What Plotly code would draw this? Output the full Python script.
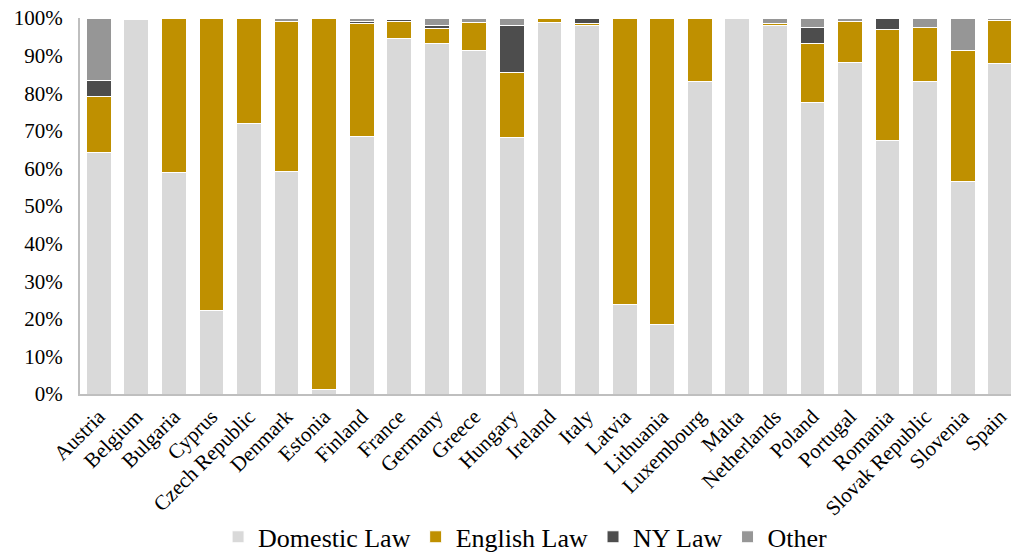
import plotly.graph_objects as go

countries = ["Austria", "Belgium", "Bulgaria", "Cyprus", "Czech Republic", "Denmark",
             "Estonia", "Finland", "France", "Germany", "Greece", "Hungary", "Ireland",
             "Italy", "Latvia", "Lithuania", "Luxembourg", "Malta", "Netherlands",
             "Poland", "Portugal", "Romania", "Slovak Republic", "Slovenia", "Spain"]

domestic = [64.1, 99.7, 58.8, 22.3, 72.0, 59.3, 1.2, 68.5, 94.5, 93.1, 91.4, 68.1, 98.7,
            98.0, 23.9, 18.6, 83.1, 100.0, 98.0, 77.6, 88.1, 67.3, 83.1, 56.6, 87.8]
english = [15.0, 0.3, 41.2, 77.7, 28.0, 39.9, 98.8, 30.0, 4.5, 4.2, 7.3, 17.4, 1.3,
           0.5, 76.1, 81.4, 16.9, 0.0, 0.6, 15.5, 11.1, 29.6, 14.5, 34.8, 11.5]
ny_law = [4.2, 0.0, 0.0, 0.0, 0.0, 0.0, 0.0, 0.7, 0.6, 0.8, 0.0, 12.5, 0.0,
          1.5, 0.0, 0.0, 0.0, 0.0, 0.0, 4.3, 0.0, 3.1, 0.0, 0.0, 0.0]
other = [16.7, 0.0, 0.0, 0.0, 0.0, 0.8, 0.0, 0.8, 0.4, 1.9, 1.3, 2.0, 0.0,
         0.0, 0.0, 0.0, 0.0, 0.0, 1.4, 2.6, 0.8, 0.0, 2.4, 8.6, 0.7]

y_ticks = [0, 10, 20, 30, 40, 50, 60, 70, 80, 90, 100]
y_labels = [f"{v}%" for v in y_ticks]

series = [
    ("Domestic Law", domestic, "#D9D9D9"),
    ("English Law", english, "#BF9000"),
    ("NY Law", ny_law, "#4D4D4D"),
    ("Other", other, "#969696"),
]

serif = "Times New Roman"

fig = go.Figure()
for name, vals, color in series:
    fig.add_trace(go.Bar(
        x=countries,
        y=vals,
        name=name,
        marker=dict(color=color, line=dict(color="white", width=1)),
    ))

fig.update_layout(
    barmode="stack",
    bargap=0.34,
    width=1011,
    height=545,
    plot_bgcolor="white",
    paper_bgcolor="white",
    font=dict(family=serif, color="black", size=21),
    margin=dict(l=72, r=0, t=10, b=159, autoexpand=False),
    legend=dict(
        orientation="h",
        x=0.474,
        xanchor="center",
        y=-0.38,
        yanchor="middle",
        font=dict(family=serif, size=26),
        traceorder="normal",
    ),
)
fig.update_yaxes(
    range=[0, 100],
    tickvals=y_ticks,
    ticktext=y_labels,
    showgrid=False,
    showline=True,
    linecolor="#BFBFBF",
    linewidth=2,
    ticks="",
    automargin=False,
    ticklabeloverflow="allow",
    ticklabelstandoff=11,
    tickfont=dict(family=serif, size=21),
)
fig.update_xaxes(
    tickangle=-45,
    showgrid=False,
    showline=True,
    linecolor="#BFBFBF",
    linewidth=2,
    ticks="",
    automargin=False,
    tickfont=dict(family=serif, size=21),
)

fig.write_html("out.html")
